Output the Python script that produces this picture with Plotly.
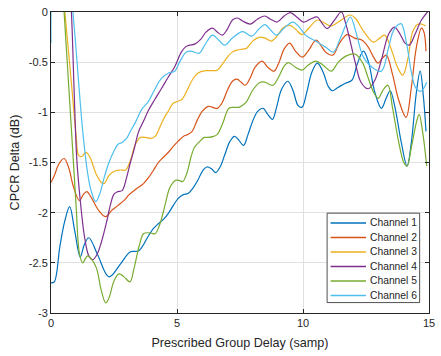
import plotly.graph_objects as go

# ---------------- data ----------------
channel_names = ["Channel 1", "Channel 2", "Channel 3", "Channel 4", "Channel 5", "Channel 6"]
channel_colors = ["#0072BD", "#D95319", "#EDB120", "#7E2F8E", "#77AC30", "#4DBEEE"]

ch1_x = [0.0, 0.13, 0.35, 0.55, 0.74, 0.94, 1.16, 1.32, 1.5, 1.85, 2.3, 2.76, 3.15, 3.48, 3.87, 4.06, 4.26, 4.45, 4.65, 4.85, 5.04, 5.25, 5.43, 5.62, 5.82, 6.0, 6.18, 6.36, 6.54, 6.72, 6.9, 7.1, 7.28, 7.46, 7.64, 7.82, 8.0, 8.2, 8.42, 8.6, 8.79, 8.95, 9.15, 9.4, 9.6, 9.8, 9.96, 10.15, 10.35, 10.57, 10.8, 11.0, 11.16, 11.4, 11.68, 11.94, 12.15, 12.4, 12.6, 12.85, 13.11, 13.3, 13.46, 13.65, 13.9, 14.13, 14.3, 14.5, 14.65, 14.78, 14.88]
ch1_y = [-2.70, -2.69, -2.34, -2.08, -1.94, -2.18, -2.44, -2.32, -2.25, -2.42, -2.64, -2.51, -2.39, -2.38, -2.23, -2.16, -2.11, -2.07, -2.01, -1.93, -1.86, -1.82, -1.81, -1.76, -1.68, -1.59, -1.545, -1.56, -1.60, -1.54, -1.42, -1.29, -1.24, -1.28, -1.33, -1.22, -1.09, -0.99, -0.96, -1.02, -1.07, -0.95, -0.77, -0.69, -0.78, -0.93, -0.95, -0.80, -0.60, -0.51, -0.60, -0.74, -0.785, -0.75, -0.71, -0.68, -0.52, -0.39, -0.50, -0.80, -0.96, -0.86, -0.785, -0.95, -1.30, -1.535, -1.30, -0.80, -0.59, -0.85, -1.19]

ch2_x = [0.0, 0.15, 0.3, 0.52, 0.7, 0.9, 1.13, 1.28, 1.42, 1.6, 1.9, 2.17, 2.4, 2.65, 2.89, 3.1, 3.4, 3.67, 3.87, 4.06, 4.26, 4.45, 4.65, 4.85, 5.04, 5.25, 5.43, 5.6, 5.8, 6.0, 6.25, 6.42, 6.6, 6.8, 7.0, 7.2, 7.38, 7.55, 7.71, 7.9, 8.1, 8.38, 8.6, 8.85, 9.05, 9.25, 9.47, 9.7, 9.97, 10.2, 10.52, 10.7, 10.9, 11.18, 11.45, 11.75, 12.05, 12.33, 12.59, 12.8, 12.98, 13.15, 13.31, 13.55, 13.8, 14.09, 14.3, 14.5, 14.7, 14.8, 14.88]
ch2_y = [-1.70, -1.62, -1.52, -1.46, -1.55, -1.75, -1.88, -1.82, -1.79, -1.85, -1.98, -2.04, -1.98, -1.93, -1.88, -1.82, -1.76, -1.71, -1.65, -1.58, -1.50, -1.45, -1.40, -1.34, -1.29, -1.24, -1.22, -1.19, -1.08, -0.99, -0.94, -0.95, -0.96, -0.90, -0.78, -0.69, -0.67, -0.70, -0.73, -0.66, -0.55, -0.49, -0.55, -0.59, -0.50, -0.37, -0.31, -0.39, -0.45, -0.39, -0.28, -0.33, -0.40, -0.43, -0.31, -0.225, -0.26, -0.28, -0.35, -0.45, -0.51, -0.46, -0.43, -0.62, -0.88, -1.05, -0.75, -0.35, -0.16, -0.20, -0.39]

ch3_x = [0.3, 0.55, 0.8, 1.0, 1.1, 1.22, 1.39, 1.55, 1.8, 2.0, 2.11, 2.3, 2.53, 2.75, 2.96, 3.15, 3.3, 3.41, 3.55, 3.75, 3.95, 4.13, 4.35, 4.5, 4.65, 4.85, 5.04, 5.2, 5.4, 5.6, 5.82, 6.14, 6.4, 6.6, 6.8, 7.0, 7.19, 7.38, 7.6, 7.77, 8.0, 8.29, 8.5, 8.75, 9.0, 9.2, 9.46, 9.7, 9.96, 10.2, 10.57, 10.85, 11.1, 11.4, 11.88, 12.1, 12.4, 12.79, 13.0, 13.24, 13.5, 13.75, 13.96, 14.15, 14.35, 14.54, 14.7, 14.87]
ch3_y = [0.68, 0.0, -0.68, -1.24, -1.43, -1.44, -1.40, -1.45, -1.62, -1.70, -1.71, -1.63, -1.585, -1.575, -1.575, -1.48, -1.35, -1.29, -1.25, -1.25, -1.26, -1.24, -1.13, -1.05, -0.99, -0.91, -0.89, -0.87, -0.78, -0.68, -0.61, -0.585, -0.585, -0.58, -0.52, -0.45, -0.40, -0.38, -0.37, -0.36, -0.29, -0.25, -0.26, -0.29, -0.23, -0.16, -0.13, -0.17, -0.225, -0.17, -0.08, -0.11, -0.14, -0.10, -0.03, -0.07, -0.19, -0.30, -0.27, -0.23, -0.37, -0.55, -0.63, -0.48, -0.20, -0.125, -0.12, -0.14]

ch4_x = [0.6, 0.81, 0.92, 1.02, 1.15, 1.33, 1.5, 1.65, 1.82, 1.98, 2.2, 2.35, 2.5, 2.65, 2.82, 3.0, 3.15, 3.28, 3.48, 3.65, 3.87, 4.1, 4.39, 4.65, 4.91, 5.17, 5.35, 5.5, 5.7, 5.95, 6.15, 6.41, 6.6, 6.8, 7.0, 7.2, 7.4, 7.6, 7.92, 8.2, 8.49, 8.7, 8.98, 9.25, 9.5, 9.75, 10.02, 10.3, 10.57, 10.75, 10.96, 11.25, 11.52, 11.7, 12.07, 12.3, 12.59, 12.85, 13.11, 13.4, 13.63, 13.85, 14.05, 14.22, 14.45, 14.7, 14.94]
ch4_y = [0.9, 0.0, -0.8, -1.45, -1.85, -2.24, -2.43, -2.47, -2.42, -2.31, -2.10, -1.93, -1.815, -1.79, -1.78, -1.65, -1.50, -1.386, -1.19, -1.10, -0.98, -0.88, -0.76, -0.65, -0.545, -0.40, -0.345, -0.33, -0.32, -0.27, -0.20, -0.16, -0.20, -0.23, -0.17, -0.08, -0.06, -0.09, -0.12, -0.07, -0.04, -0.07, -0.10, -0.04, -0.007, -0.05, -0.10, -0.07, -0.05, -0.11, -0.165, -0.08, 0.0, -0.12, -0.50, -0.70, -0.765, -0.68, -0.48, -0.22, -0.15, -0.22, -0.31, -0.33, -0.22, -0.08, 0.0]

ch5_x = [0.3, 0.52, 0.81, 1.0, 1.13, 1.26, 1.36, 1.46, 1.6, 1.8, 2.0, 2.17, 2.3, 2.5, 2.7, 2.9, 3.13, 3.3, 3.5, 3.67, 3.85, 4.0, 4.13, 4.3, 4.5, 4.7, 4.84, 4.97, 5.1, 5.23, 5.4, 5.55, 5.69, 5.9, 6.08, 6.25, 6.45, 6.6, 6.8, 7.06, 7.25, 7.45, 7.6, 7.77, 8.0, 8.3, 8.5, 8.8, 9.05, 9.25, 9.42, 9.7, 9.96, 10.2, 10.51, 10.8, 11.12, 11.4, 11.7, 12.07, 12.35, 12.59, 12.8, 12.98, 13.17, 13.37, 13.55, 13.8, 14.0, 14.13, 14.3, 14.5, 14.61, 14.75, 14.91]
ch5_y = [0.87, 0.0, -1.17, -1.95, -2.41, -2.50, -2.46, -2.43, -2.46, -2.55, -2.78, -2.90, -2.85, -2.68, -2.61, -2.64, -2.69, -2.55, -2.33, -2.21, -2.20, -2.205, -2.21, -2.13, -1.95, -1.76, -1.70, -1.676, -1.68, -1.69, -1.60, -1.45, -1.35, -1.29, -1.25, -1.25, -1.24, -1.22, -1.12, -0.96, -0.95, -0.95, -0.93, -0.89, -0.78, -0.70, -0.70, -0.73, -0.64, -0.54, -0.505, -0.55, -0.58, -0.53, -0.49, -0.53, -0.59, -0.50, -0.44, -0.42, -0.50, -0.66, -0.80, -0.86, -0.78, -0.73, -0.95, -1.30, -1.50, -1.535, -1.35, -1.10, -1.02, -1.20, -1.535]

ch6_x = [0.0, 0.08, 0.5, 0.87, 1.26, 1.45, 1.59, 1.78, 1.95, 2.11, 2.3, 2.5, 2.65, 2.82, 3.0, 3.15, 3.35, 3.6, 3.87, 4.1, 4.39, 4.65, 4.91, 5.1, 5.36, 5.55, 5.89, 6.1, 6.41, 6.65, 6.9, 7.2, 7.6, 7.97, 8.25, 8.49, 8.75, 8.95, 9.25, 9.6, 9.85, 10.1, 10.5, 10.9, 11.2, 11.5, 11.88, 12.1, 12.4, 12.79, 13.11, 13.4, 13.6, 13.89, 14.1, 14.3, 14.48, 14.68, 14.91]
ch6_y = [-0.31, 0.4, 0.9, 0.0, -1.19, -1.60, -1.78, -1.89, -1.80, -1.65, -1.50, -1.386, -1.32, -1.30, -1.26, -1.19, -1.10, -0.97, -0.89, -0.78, -0.66, -0.61, -0.59, -0.50, -0.40, -0.39, -0.41, -0.33, -0.23, -0.28, -0.33, -0.26, -0.195, -0.24, -0.17, -0.125, -0.19, -0.23, -0.16, -0.10, -0.15, -0.23, -0.29, -0.35, -0.40, -0.25, -0.05, -0.20, -0.45, -0.56, -0.59, -0.35, -0.18, -0.116, -0.30, -0.60, -0.76, -0.79, -0.70]

x_tick_vals = [0, 5, 10, 15]
x_tick_labels = ["0", "5", "10", "15"]
y_tick_vals = [-3, -2.5, -2, -1.5, -1, -0.5, 0]
y_tick_labels = ["-3", "-2.5", "-2", "-1.5", "-1", "-0.5", "0"]

series_x = [ch1_x, ch2_x, ch3_x, ch4_x, ch5_x, ch6_x]
series_y = [ch1_y, ch2_y, ch3_y, ch4_y, ch5_y, ch6_y]

# ---------------- layout geometry ----------------
W, H = 441, 356
L, R, T, B = 51, 6, 10, 43
PW, PH = W - L - R, H - T - B
FONT = "Liberation Sans, Arial, Helvetica, sans-serif"
AX = "#262626"


def px_x(px):
    return (px - L) / PW


def px_y(py):
    return (H - B - py) / PH


fig = go.Figure()
for name, color, xs, ys in zip(channel_names, channel_colors, series_x, series_y):
    fig.add_trace(go.Scatter(x=xs, y=ys, mode="lines", name=name,
                             line=dict(color=color, width=1.2, shape="spline", smoothing=1.0),
                             showlegend=False))

# manual MATLAB-like legend
shapes = [dict(type="rect", xref="paper", yref="paper",
               x0=px_x(331.5), x1=px_x(425.5), y0=px_y(302.5), y1=px_y(212.5),
               line=dict(color=AX, width=0.8), fillcolor="white", layer="above")]
annotations = []
for i, (name, color) in enumerate(zip(channel_names, channel_colors)):
    cy = 222.3 + 14.6 * i
    shapes.append(dict(type="line", xref="paper", yref="paper",
                       x0=px_x(335), x1=px_x(371), y0=px_y(cy), y1=px_y(cy),
                       line=dict(color=color, width=1.5), layer="above"))
    annotations.append(dict(xref="paper", yref="paper", x=px_x(373.5), y=px_y(cy),
                            text=name, showarrow=False, xanchor="left", yanchor="middle",
                            font=dict(family=FONT, size=10.3, color=AX)))

axis_common = dict(showgrid=True, gridcolor="#e0e0e0", gridwidth=1, zeroline=False,
                   showline=True, linecolor=AX, linewidth=1, mirror="ticks",
                   ticks="inside", ticklen=4, tickwidth=1, tickcolor=AX,
                   tickfont=dict(family=FONT, size=11, color=AX))

fig.update_layout(
    width=W, height=H,
    margin=dict(l=L, r=R, t=T, b=B, pad=0),
    paper_bgcolor="white", plot_bgcolor="white",
    font=dict(family=FONT, color=AX),
    shapes=shapes, annotations=annotations,
    xaxis=dict(range=[0, 15], tickvals=x_tick_vals, ticktext=x_tick_labels,
               title=dict(text="Prescribed Group Delay (samp)", font=dict(family=FONT, size=12.6, color=AX), standoff=9),
               **axis_common),
    yaxis=dict(range=[-3, 0], tickvals=y_tick_vals, ticktext=y_tick_labels,
               title=dict(text="CPCR Delta (dB)", font=dict(family=FONT, size=12.6, color=AX), standoff=6),
               **axis_common),
)

fig.write_html("out.html")
